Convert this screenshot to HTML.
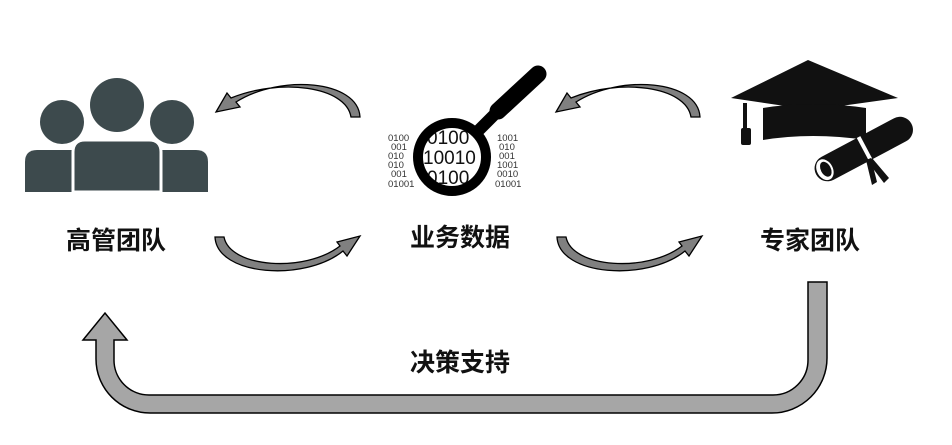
<!DOCTYPE html>
<html><head><meta charset="utf-8"><style>
html,body{margin:0;padding:0;background:#fff;}
body{width:952px;height:440px;overflow:hidden;}
svg text{font-family:"Liberation Sans","Noto Sans CJK SC",sans-serif;}
</style></head><body>
<svg width="952" height="440" viewBox="0 0 952 440" xmlns="http://www.w3.org/2000/svg">
<!-- people -->
<g fill="#3d4a4d">
<circle cx="117" cy="105" r="27"/>
<circle cx="62" cy="122" r="22"/>
<circle cx="172" cy="122" r="22"/>
<path d="M25,192 L25,162 Q25,150 37,150 L75,150 L75,192 Z"/>
<path d="M160,150 L196,150 Q208,150 208,162 L208,192 L160,192 Z"/>
<path d="M73,192 L73,152 Q73,140 85,140 L149,140 Q161,140 161,152 L161,192 Z" stroke="#fff" stroke-width="3"/>
</g>
<text x="116" y="249" font-size="25" font-weight="bold" text-anchor="middle" fill="#111">高管团队</text>
<text x="460" y="246" font-size="25" font-weight="bold" text-anchor="middle" fill="#111">业务数据</text>
<text x="810" y="249" font-size="25" font-weight="bold" text-anchor="middle" fill="#111">专家团队</text>
<text x="460" y="371" font-size="25" font-weight="bold" text-anchor="middle" fill="#111">决策支持</text>

<!-- binary -->
<g font-family="Liberation Mono,monospace" font-size="9.5" fill="#333">
<text x="388" y="141">0100</text><text x="391" y="150">001</text><text x="388" y="159">010</text><text x="388" y="168">010</text><text x="391" y="177">001</text><text x="388" y="187">01001</text>
<text x="497" y="141">1001</text><text x="499" y="150">010</text><text x="499" y="159">001</text><text x="497" y="168">1001</text><text x="497" y="177">0010</text><text x="495" y="187">01001</text>
</g>
<g font-family="Liberation Sans,sans-serif" font-size="19" fill="#111">
<text x="427" y="144">0100</text><text x="423" y="164">10010</text><text x="427" y="184">0100</text>
</g>
<circle cx="452" cy="157" r="34" fill="none" stroke="#000" stroke-width="10"/>
<line x1="478" y1="131" x2="498" y2="111" stroke="#000" stroke-width="12"/>
<line x1="498" y1="111" x2="538" y2="74" stroke="#000" stroke-width="17" stroke-linecap="round"/>

<!-- grad cap -->
<g fill="#111">
<path d="M731,98 L808,60 L898,98 L812,110 Z"/>
<path d="M763,108 Q812,100 866,108 L866,140 Q812,132 763,140 Z"/>
<path d="M743,103 L747,103 L747,128 L743,128 Z"/>
<rect x="741" y="128" width="10" height="17" rx="2"/>
<g transform="rotate(-28 862 150)">
<rect x="810" y="137" width="108" height="26" rx="13"/>
<ellipse cx="820" cy="150" rx="8" ry="11" fill="#fff"/>
<ellipse cx="821" cy="150" rx="5" ry="8" fill="#111"/>
<rect x="863" y="137" width="4" height="26" fill="#fff"/>
</g>
<path d="M866,160 L872,185 L877,182 L871,158 Z"/>
<path d="M872,158 L889,178 L884,183 L868,162 Z"/>
</g>

<!-- curved arrows -->
<g fill="#808080" stroke="#000" stroke-width="1.3">
<path d="M360,117 C358,80 280,74 236,102 L240,107 L216,112 L227,93 L231,98 C280,78 346,86 351,117 Z"/>
<path transform="translate(340,0)" d="M360,117 C358,80 280,74 236,102 L240,107 L216,112 L227,93 L231,98 C280,78 346,86 351,117 Z"/>
<path d="M215,237 C217,276 305,282 343,251 L347,256 L360,236 L337,242 L340,246 C305,273 230,268 224,237 Z"/>
<path transform="translate(342,0)" d="M215,237 C217,276 305,282 343,251 L347,256 L360,236 L337,242 L340,246 C305,273 230,268 224,237 Z"/>
</g>

<!-- big return arrow -->
<path d="M808,282 L827,282 L827,358 A55,55 0 0 1 772,413 L150,413 A54,54 0 0 1 96,359 L96,340 L83,340 L105,313 L127,340 L114,340 L114,359 A35,35 0 0 0 149,395 L773,395 A35,35 0 0 0 808,360 Z" fill="#a6a6a6" stroke="#000" stroke-width="1.5"/>
</svg>
</body></html>
